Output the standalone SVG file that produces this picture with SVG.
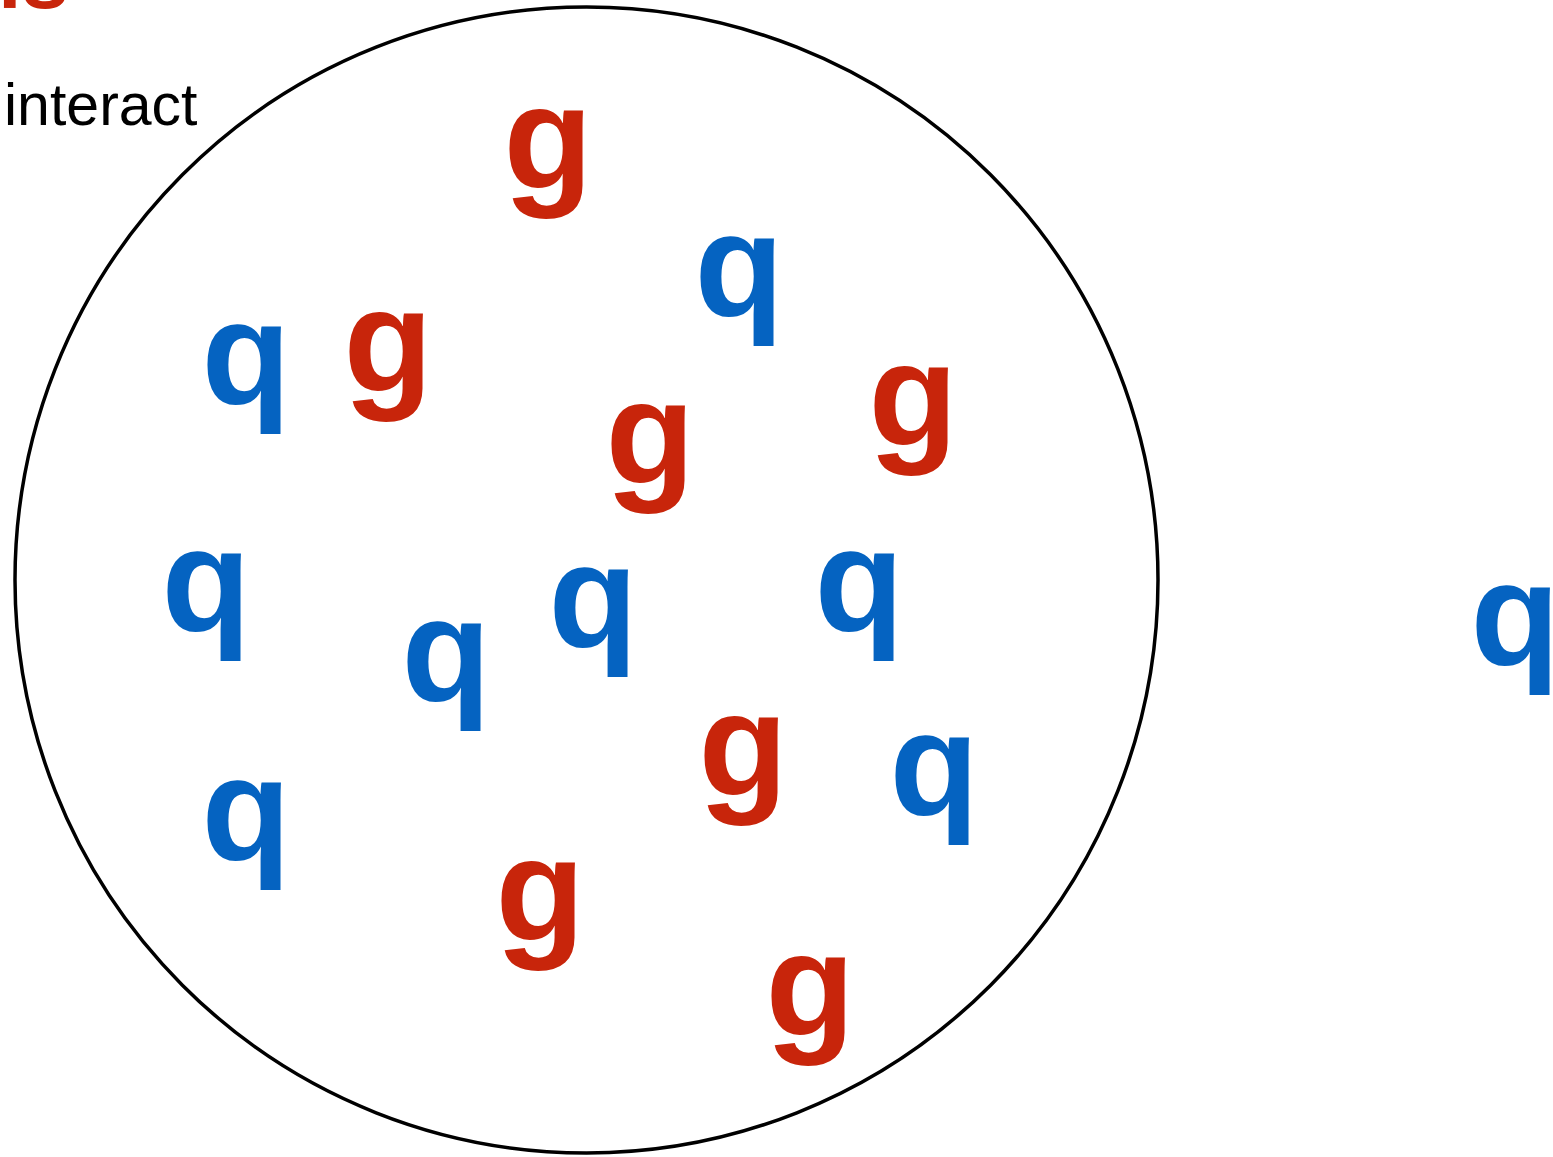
<svg xmlns="http://www.w3.org/2000/svg" width="1553" height="1157" viewBox="0 0 1553 1157">
<style>
.p{font-family:"Liberation Sans",Arial,sans-serif;font-weight:bold;font-size:146px;text-anchor:middle}
.g{fill:#C8250B}
.q{fill:#0563C1}
.lbl{font-family:"Liberation Sans",Arial,sans-serif;font-size:59px;fill:#000}
</style>
<rect width="1553" height="1157" fill="#fff"/>
<text class="g" x="-2" y="8" style="font-family:'Liberation Sans',Arial,sans-serif;font-weight:bold;font-size:85px">ls</text>
<text class="lbl" x="4" y="125">interact</text>
<g id="region">
<ellipse cx="586.5" cy="580" rx="571.5" ry="573" fill="none" stroke="#000" stroke-width="3.5"/>
</g>
<g id="particles">
<text id="g1" class="p g" x="548" y="188">g</text>
<text id="q1" class="p q" x="739" y="316">q</text>
<text id="q2" class="p q" x="246" y="404">q</text>
<text id="g2" class="p g" x="388" y="391">g</text>
<text id="g3" class="p g" x="650" y="483">g</text>
<text id="g4" class="p g" x="913" y="445">g</text>
<text id="q3" class="p q" x="206" y="631">q</text>
<text id="q4" class="p q" x="593" y="647">q</text>
<text id="q5" class="p q" x="859" y="631">q</text>
<text id="q6" class="p q" x="446" y="701">q</text>
<text id="g5" class="p g" x="743" y="795">g</text>
<text id="q7" class="p q" x="934" y="815">q</text>
<text id="q8" class="p q" x="246" y="860">q</text>
<text id="g6" class="p g" x="540" y="940">g</text>
<text id="g7" class="p g" x="810" y="1035">g</text>
<text id="q9" class="p q" x="1515" y="665">q</text>
</g>
</svg>
